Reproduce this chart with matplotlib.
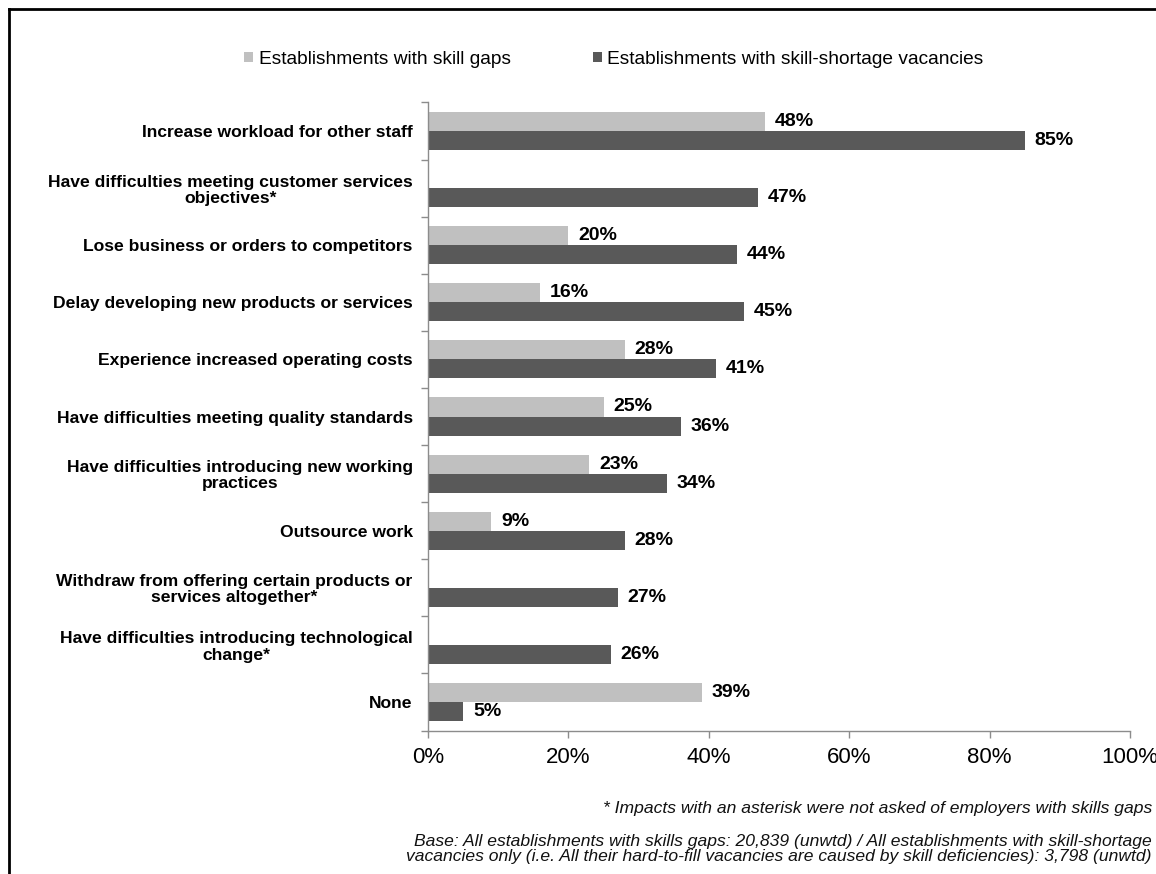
import matplotlib
matplotlib.use("Agg")
import matplotlib.pyplot as plt
import numpy as np
from matplotlib.lines import Line2D
from matplotlib.patches import Patch

plt.rcParams['font.family'] = ['Liberation Sans', 'DejaVu Sans']

categories = [
    "Increase workload for other staff",
    "Have difficulties meeting customer services\nobjectives*",
    "Lose business or orders to competitors",
    "Delay developing new products or services",
    "Experience increased operating costs",
    "Have difficulties meeting quality standards",
    "Have difficulties introducing new working\npractices",
    "Outsource work",
    "Withdraw from offering certain products or\nservices altogether*",
    "Have difficulties introducing technological\nchange*",
    "None",
]
skill_gaps = [48, None, 20, 16, 28, 25, 23, 9, None, None, 39]
skill_shortage = [85, 47, 44, 45, 41, 36, 34, 28, 27, 26, 5]
series_names = ["Establishments with skill gaps",
                "Establishments with skill-shortage vacancies"]
xticks = [0, 20, 40, 60, 80, 100]
xticklabels = ["0%", "20%", "40%", "60%", "80%", "100%"]

light = "#C0C0C0"
dark = "#595959"

W, H = 1156, 874
fig = plt.figure(figsize=(W / 100, H / 100), dpi=100)
ax = fig.add_axes([428 / W, (H - 730.5) / H, (1130 - 428) / W, (730.5 - 102.5) / H])

n = len(categories)
y = np.arange(n)
bh = 0.333
for i in range(n):
    g = skill_gaps[i]
    s = skill_shortage[i]
    if g is not None:
        ax.barh(y[i] - bh / 2, g, height=bh, color=light, edgecolor="none")
        ax.text(g + 1.4, y[i] - bh / 2, f"{g}%", va="center", ha="left",
                fontsize=14, fontweight="bold", color="black")
    if s is not None:
        ax.barh(y[i] + bh / 2, s, height=bh, color=dark, edgecolor="none")
        ax.text(s + 1.4, y[i] + bh / 2, f"{s}%", va="center", ha="left",
                fontsize=14, fontweight="bold", color="black")

ax.set_ylim(n - 0.5, -0.5)
ax.set_xlim(0, 100)

ax.set_yticks(y)
ax.set_yticklabels(categories, fontsize=12.6, fontweight="bold",
                   multialignment="center", linespacing=1.1)
ax.set_yticks(np.arange(-0.5, n, 1), minor=True)
ax.tick_params(axis="y", which="major", length=0, pad=11)
ax.tick_params(axis="y", which="minor", length=5, color="#8c8c8c", width=1)

ax.set_xticks(xticks)
ax.set_xticklabels(xticklabels, fontsize=16)
ax.tick_params(axis="x", length=5, color="#8c8c8c", width=1, pad=7)

for sp in ["top", "right"]:
    ax.spines[sp].set_visible(False)
for sp in ["left", "bottom"]:
    ax.spines[sp].set_color("#8c8c8c")
    ax.spines[sp].set_linewidth(1)

# legend
handles = [Patch(facecolor=light, edgecolor="none"), Patch(facecolor=dark, edgecolor="none")]
fig.legend(handles, series_names, loc="center", bbox_to_anchor=(614 / W, 1 - 59 / H),
           ncol=2, frameon=False, fontsize=13.8, handlelength=0.45, handleheight=0.45,
           handletextpad=0.3, columnspacing=4.3, borderpad=0)

# footnotes
fig.text(1152 / W, 1 - 808 / H,
         "* Impacts with an asterisk were not asked of employers with skills gaps",
         ha="right", va="center", fontsize=12.6, style="italic", color="#111111")
fig.text(1152 / W, 1 - 849 / H,
         "Base: All establishments with skills gaps: 20,839 (unwtd) / All establishments with skill-shortage\n"
         "vacancies only (i.e. All their hard-to-fill vacancies are caused by skill deficiencies): 3,798 (unwtd)",
         ha="right", va="center", fontsize=12.6, style="italic", color="#111111",
         multialignment="right", linespacing=1.08)

# border
fig.add_artist(Line2D([8.5 / W, 8.5 / W], [0, 1 - 8.5 / H], transform=fig.transFigure,
                      color="black", linewidth=2))
fig.add_artist(Line2D([8.5 / W, 1], [1 - 8.5 / H, 1 - 8.5 / H], transform=fig.transFigure,
                      color="black", linewidth=2))

fig.savefig("out.png", dpi=100)
